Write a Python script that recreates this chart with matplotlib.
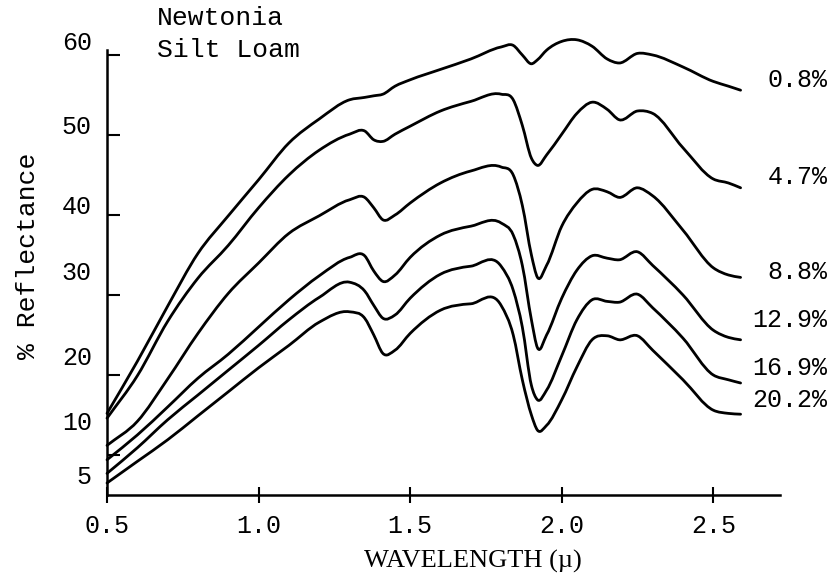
import matplotlib
matplotlib.use("Agg")
import numpy as np
import matplotlib.pyplot as plt
from matplotlib.path import Path
from matplotlib.patches import PathPatch

# wavelength grid (micron)
wavelength = [0.5, 0.6, 0.7, 0.8, 0.9, 1.0, 1.1, 1.2, 1.3, 1.35, 1.38, 1.41, 1.45,
              1.5, 1.6, 1.7, 1.8, 1.84, 1.87, 1.9, 1.92, 1.95, 2.0, 2.05, 2.1,
              2.15, 2.19, 2.25, 2.3, 2.4, 2.5, 2.55, 2.59]

# % reflectance for each moisture content
r_08 = [15.2, 21.7, 28.6, 35.2, 39.9, 44.4, 49.0, 52.0, 54.4, 54.7, 54.9, 55.1, 56.1,
        56.9, 58.2, 59.5, 61.0, 61.2, 60.0, 58.9, 59.4, 60.6, 61.7, 61.9, 61.1,
        59.5, 59.0, 60.2, 60.0, 58.5, 56.7, 56.1, 55.6]
r_47 = [14.6, 19.9, 26.7, 32.1, 36.2, 40.9, 45.0, 48.1, 50.1, 50.5, 49.4, 49.2, 50.1,
        51.1, 53.0, 54.2, 55.1, 54.4, 51.2, 47.1, 46.2, 47.5, 50.1, 52.7, 54.1,
        53.2, 51.9, 53.0, 52.7, 48.4, 44.5, 44.0, 43.4]
r_88 = [11.2, 14.2, 19.5, 25.2, 30.2, 34.0, 37.7, 39.9, 41.9, 42.2, 40.9, 39.4, 40.0,
        41.5, 44.0, 45.5, 46.0, 45.0, 41.2, 35.0, 32.2, 33.7, 38.6, 41.5, 43.2,
        42.9, 42.2, 43.4, 42.4, 38.1, 33.4, 32.5, 32.2]
r_129 = [9.4, 12.5, 16.0, 19.6, 22.6, 26.0, 29.4, 32.4, 34.7, 34.9, 33.0, 31.7, 32.5,
         34.7, 37.5, 38.6, 39.0, 37.5, 33.7, 26.9, 23.4, 25.0, 29.6, 33.1, 34.9,
         34.6, 34.4, 35.4, 33.7, 30.0, 25.6, 24.7, 24.4]
r_169 = [7.7, 10.9, 14.4, 17.5, 20.6, 23.7, 26.9, 29.7, 31.6, 30.5, 28.7, 27.1, 27.5,
         29.6, 32.6, 33.6, 33.6, 30.6, 26.0, 18.7, 16.9, 18.1, 22.4, 26.9, 29.4,
         29.2, 29.1, 30.1, 28.4, 24.6, 20.0, 19.4, 19.0]
r_202 = [6.5, 9.2, 11.9, 14.9, 17.9, 20.9, 23.7, 26.6, 27.9, 27.1, 25.0, 22.7, 23.1,
         25.2, 28.1, 28.9, 28.7, 25.0, 19.4, 15.0, 13.1, 13.7, 16.9, 21.0, 24.4,
         24.9, 24.4, 24.9, 23.1, 19.4, 15.6, 15.2, 15.1]

series = [r_08, r_47, r_88, r_129, r_169, r_202]
moisture_labels = ["0.8%", "4.7%", "8.8%", "12.9%", "16.9%", "20.2%"]
label_y = [56.9, 44.7, 32.9, 26.9, 20.9, 16.9]

ytick_vals = [10, 20, 30, 40, 50, 60]
ylabel_text = ["60", "50", "40", "30", "20", "10", "5"]
ylabel_pos = [61.5, 51.0, 41.0, 32.7, 22.1, 14.0, 7.2]

xtick_vals = [0.5, 1.0, 1.5, 2.0, 2.5]
xtick_text = ["0.5", "1.0", "1.5", "2.0", "2.5"]

mono = "Liberation Mono"


def smooth_path(x, y):
    # hand-drawn look: cubic Bezier segments through the read points
    x = np.asarray(x, float)
    y = np.asarray(y, float)
    h = np.diff(x)
    d = np.diff(y) / h
    m = np.empty_like(y)
    m[0], m[-1] = d[0], d[-1]
    m[1:-1] = (d[:-1] * h[1:] + d[1:] * h[:-1]) / (h[:-1] + h[1:])
    verts = [(x[0], y[0])]
    codes = [Path.MOVETO]
    for i in range(len(h)):
        verts += [(x[i] + h[i] / 3, y[i] + m[i] * h[i] / 3),
                  (x[i + 1] - h[i] / 3, y[i + 1] - m[i + 1] * h[i] / 3),
                  (x[i + 1], y[i + 1])]
        codes += [Path.CURVE4] * 3
    return Path(verts, codes)


fig = plt.figure(figsize=(8.38, 5.77), dpi=100)
ax = fig.add_axes([107 / 838, 82 / 577, 673 / 838, 464 / 577])

for r in series:
    ax.add_patch(PathPatch(smooth_path(wavelength, r), facecolor="none",
                           edgecolor="black", lw=2.0, joinstyle="round",
                           capstyle="round", clip_on=False))

ax.set_xlim(0.5, 2.72)
ax.set_ylim(5, 63)

for s in ["top", "right"]:
    ax.spines[s].set_visible(False)
ax.spines["left"].set_bounds(5, 60.6)
ax.spines["left"].set_linewidth(1.8)
ax.spines["bottom"].set_linewidth(1.8)

ax.set_yticks(ytick_vals)
ax.set_yticklabels([])
ax.tick_params(axis="y", direction="in", length=9, width=1.5)

ax.set_xticks(xtick_vals)
ax.set_xticklabels(xtick_text, fontfamily=mono, fontsize=18)
ax.tick_params(axis="x", direction="inout", length=12, width=1.5, pad=8)

# typed y labels sit a bit off the tick marks in the original
for txt, yv in zip(ylabel_text, ylabel_pos):
    ax.text(0.45, yv, txt, ha="right", va="center", fontfamily=mono, fontsize=18)

for lab, yv in zip(moisture_labels, label_y):
    ax.text(2.876, yv, lab, ha="right", va="center", fontfamily=mono, fontsize=18,
            clip_on=False)

fig.text(28 / 838, 1 - 256 / 577, "% Reflectance", rotation=90, ha="center",
         va="center", fontfamily=mono, fontsize=19)
fig.text(473 / 838, 1 - 561 / 577, "WAVELENGTH (\u00b5)", ha="center", va="center",
         fontfamily="Liberation Serif", fontsize=19)
fig.text(157 / 838, 1 - 18 / 577, "Newtonia", ha="left", va="center",
         fontfamily=mono, fontsize=19)
fig.text(157 / 838, 1 - 50 / 577, "Silt Loam", ha="left", va="center",
         fontfamily=mono, fontsize=19)

fig.savefig("out.png", dpi=100)
